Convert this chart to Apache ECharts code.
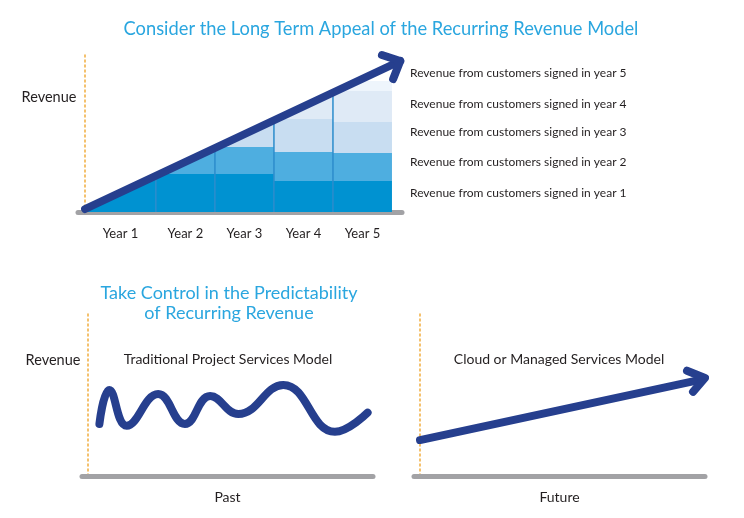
<!DOCTYPE html>
<html><head><meta charset="utf-8">
<script src="https://cdn.jsdelivr.net/npm/echarts@6/dist/echarts.min.js"></script>
<style>html,body{margin:0;padding:0;background:#fff}#c{width:744px;height:518px}</style>
</head><body><div id="c"></div>
<script>
// ---- data ----
const yearLabels = ['Year 1', 'Year 2', 'Year 3', 'Year 4', 'Year 5'];
const yearStart = [0, 1.2, 2.2, 3.2, 4.2];
const yearEnd = [1.2, 2.2, 3.2, 4.2, 5.2];
const layerNames = [
  'Revenue from customers signed in year 1',
  'Revenue from customers signed in year 2',
  'Revenue from customers signed in year 3',
  'Revenue from customers signed in year 4',
  'Revenue from customers signed in year 5'
];
const layer1 = [4.0, 3.8, 3.8, 3.1, 3.1];
const layer2 = [0, 3.0, 2.7, 2.9, 2.8];
const layer3 = [0, 0, 3.0, 3.3, 3.1];
const layer4 = [0, 0, 0, 3.5, 3.1];
const layer5 = [0, 0, 0, 0, 1.0];
const growthTrend = [[0, 0.3], [5.34, 15.1]];
const growthHead = [[5.03, 15.7], [5.34, 15.1], [5.22, 13.3]];
const pastRevenue = [[0.38, 3.21], [0.71, 5.31], [1.29, 3.10], [2.34, 5.06], [3.23, 3.21],
  [4.07, 4.94], [5.01, 3.83], [6.51, 5.62], [8.23, 2.73], [9.32, 3.91]];
const futureRevenue = [[0, 2.22], [9.33, 5.93]];
const futureHead = [[8.9, 6.5], [9.5, 6.05], [9.1, 5.2]];

// ---- styles ----
const FONT = 'Lato';
const NAVY = '#263f8e';
const TITLE_BLUE = '#2aa6df';
const TEXT = '#231f20';
const GRAY = '#a2a2a5';
const DOT = '#f2b24a';
const layerColors = ['#0092d1', '#4eaee0', '#c8ddf1', '#dfeaf6', '#eef5fc'];
const layers = [layer1, layer2, layer3, layer4, layer5];

const chart = echarts.init(document.getElementById('c'), null, {renderer: 'canvas'});

function trendAt(x) {
  const [a, b] = growthTrend;
  return a[1] + (b[1] - a[1]) * (x - a[0]) / (b[0] - a[0]);
}
// keep the part of a polygon (data coords) lying under the growth trend
function clipUnderTrend(pts) {
  const out = [];
  for (let k = 0; k < pts.length; k++) {
    const c = pts[k], n = pts[(k + 1) % pts.length];
    const fc = trendAt(c[0]) - c[1], fn = trendAt(n[0]) - n[1];
    if (fc >= 0) out.push(c);
    if ((fc >= 0) !== (fn >= 0)) {
      const t = fc / (fc - fn);
      out.push([c[0] + t * (n[0] - c[0]), c[1] + t * (n[1] - c[1])]);
    }
  }
  return out;
}

// stacked blocks
const cum = yearLabels.map(() => 0);
const layerSeries = layers.map((vals, li) => {
  const data = [];
  vals.forEach((v, i) => {
    if (v > 0) data.push([i, cum[i], cum[i] + v]);
    cum[i] += v;
  });
  return {
    type: 'custom', name: layerNames[li], xAxisIndex: 0, yAxisIndex: 0, z: 2,
    silent: true,
    renderItem: function (params, api) {
      const i = api.value(0), b = api.value(1), t = api.value(2);
      const x0 = yearStart[i], x1 = yearEnd[i];
      const poly = clipUnderTrend([[x0, b], [x1, b], [x1, t], [x0, t]]);
      if (poly.length < 3) return null;
      return {type: 'polygon', shape: {points: poly.map(p => api.coord(p))},
        style: {fill: layerColors[li]}};
    },
    data: data
  };
});
const edgeData = [];
for (let i = 1; i < yearLabels.length; i++) edgeData.push([i, cum[i]]);
const edgeSeries = {
  type: 'custom', xAxisIndex: 0, yAxisIndex: 0, z: 3, silent: true,
  renderItem: function (params, api) {
    const i = api.value(0);
    const x = yearStart[i];
    const a = api.coord([x, 0]);
    const b = api.coord([x, Math.min(api.value(1), trendAt(x))]);
    return {type: 'line', shape: {x1: a[0], y1: a[1], x2: b[0], y2: b[1]},
      style: {stroke: '#2b8ccc', lineWidth: 1.5}};
  },
  data: edgeData
};
const arrowStyle = {color: NAVY, width: 8, cap: 'round', join: 'round'};
function lineSeries(data, gi, extra) {
  return Object.assign({
    type: 'line', xAxisIndex: gi, yAxisIndex: gi, z: 6, silent: true, symbol: 'none',
    clip: false, lineStyle: arrowStyle, data: data
  }, extra || {});
}

const dottedAxis = {show: true, onZero: true, lineStyle: {color: DOT, width: 1.6, type: [2, 3]}};
const baseAxisLine = {show: true, lineStyle: {color: GRAY, width: 5, cap: 'round'}};

const centers = yearStart.map((s, i) => (s + yearEnd[i]) / 2);

chart.setOption({
  animation: false,
  grid: [
    {left: 78, right: 342, top: 52, bottom: 306},
    {left: 82, right: 371, top: 314, bottom: 42},
    {left: 414, right: 39, top: 314, bottom: 42}
  ],
  xAxis: [
    {type: 'value', gridIndex: 0, min: -0.12, max: 5.37, axisLine: baseAxisLine,
      axisTick: {show: false}, splitLine: {show: false},
      axisLabel: {customValues: centers, margin: 15, color: TEXT, fontFamily: FONT, fontSize: 13,
        formatter: function (v) {
          let k = 0, d = 1e9;
          centers.forEach((c, i) => { if (Math.abs(c - v) < d) { d = Math.abs(c - v); k = i; } });
          return yearLabels[k];
        }}},
    {type: 'value', gridIndex: 1, min: -0.2, max: 9.5, axisLine: baseAxisLine,
      axisTick: {show: false}, splitLine: {show: false}, axisLabel: {show: false},
      name: 'Past', nameLocation: 'middle', nameGap: 14,
      nameTextStyle: {color: TEXT, fontFamily: FONT, fontSize: 14}},
    {type: 'value', gridIndex: 2, min: -0.2, max: 9.5, axisLine: baseAxisLine,
      axisTick: {show: false}, splitLine: {show: false}, axisLabel: {show: false},
      name: 'Future', nameLocation: 'middle', nameGap: 14,
      nameTextStyle: {color: TEXT, fontFamily: FONT, fontSize: 14}}
  ],
  yAxis: [
    {type: 'value', gridIndex: 0, min: 0, max: 16, axisLine: dottedAxis,
      axisTick: {show: false}, splitLine: {show: false}, axisLabel: {show: false}},
    {type: 'value', gridIndex: 1, min: 0, max: 10, axisLine: dottedAxis,
      axisTick: {show: false}, splitLine: {show: false}, axisLabel: {show: false}},
    {type: 'value', gridIndex: 2, min: 0, max: 10, axisLine: dottedAxis,
      axisTick: {show: false}, splitLine: {show: false}, axisLabel: {show: false}}
  ],
  graphic: [
    {type: 'text', x: 381, y: 29, style: {text: 'Consider the Long Term Appeal of the Recurring Revenue Model',
      fill: TITLE_BLUE, font: '18.3px ' + FONT, textAlign: 'center', textVerticalAlign: 'middle'}},
    {type: 'text', x: 229, y: 293, style: {text: 'Take Control in the Predictability',
      fill: TITLE_BLUE, font: '18px ' + FONT, textAlign: 'center', textVerticalAlign: 'middle'}},
    {type: 'text', x: 229, y: 313, style: {text: 'of Recurring Revenue',
      fill: TITLE_BLUE, font: '18px ' + FONT, textAlign: 'center', textVerticalAlign: 'middle'}},
    {type: 'text', x: 49, y: 97, style: {text: 'Revenue', fill: TEXT, font: '14.5px ' + FONT,
      textAlign: 'center', textVerticalAlign: 'middle'}},
    {type: 'text', x: 53, y: 360, style: {text: 'Revenue', fill: TEXT, font: '14.5px ' + FONT,
      textAlign: 'center', textVerticalAlign: 'middle'}},
    {type: 'text', x: 228, y: 359, style: {text: 'Traditional Project Services Model', fill: TEXT,
      font: '14px ' + FONT, textAlign: 'center', textVerticalAlign: 'middle'}},
    {type: 'text', x: 559, y: 359, style: {text: 'Cloud or Managed Services Model', fill: TEXT,
      font: '14px ' + FONT, textAlign: 'center', textVerticalAlign: 'middle'}}
  ].concat([73, 104, 132, 162, 193].map((y, k) => ({
    type: 'text', x: 410, y: y, style: {text: layerNames[4 - k], fill: TEXT, font: '12px ' + FONT,
      textAlign: 'left', textVerticalAlign: 'middle'}
  }))),
  series: layerSeries.concat([
    edgeSeries,
    lineSeries(growthTrend, 0),
    lineSeries(growthHead, 0),
    lineSeries(pastRevenue, 1, {smooth: 0.45}),
    lineSeries(futureRevenue, 2),
    lineSeries(futureHead, 2)
  ])
});
</script></body></html>
